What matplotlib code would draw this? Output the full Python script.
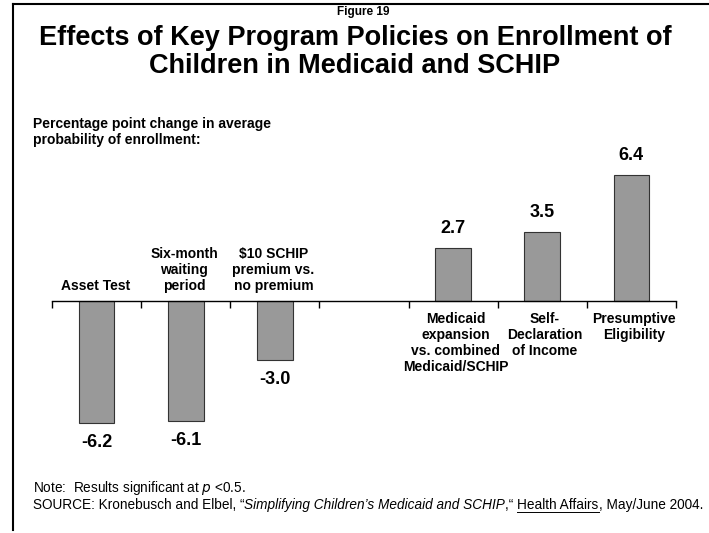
import numpy as np
import matplotlib.pyplot as plt
from matplotlib.lines import Line2D

plt.rcParams['font.family'] = ['Liberation Sans', 'DejaVu Sans']

# --- data ---
categories = ['Asset Test', 'Six-month\nwaiting\nperiod', '$10 SCHIP\npremium vs.\nno premium', '',
              'Medicaid\nexpansion\nvs. combined\nMedicaid/SCHIP', 'Self-\nDeclaration\nof Income',
              'Presumptive\nEligibility']
values = [-6.2, -6.1, -3.0, np.nan, 2.7, 3.5, 6.4]
value_labels = ['-6.2', '-6.1', '-3.0', '', '2.7', '3.5', '6.4']

fig = plt.figure(figsize=(7.09, 5.33), dpi=100)
ax = fig.add_axes([52 / 709, 1 - 448.8 / 533, (676 - 52) / 709, (448.8 - 143.4) / 533])

x = np.arange(len(categories))
ax.bar(x, values, width=0.4, color='#999999', edgecolor='#333333', linewidth=0.8, zorder=2)
ax.set_xlim(-0.5, len(categories) - 0.5)
ax.set_ylim(-7.5, 8)

for s in ['top', 'right', 'left']:
    ax.spines[s].set_visible(False)
ax.spines['bottom'].set_position(('data', 0))
ax.spines['bottom'].set_linewidth(1.0)
ax.set_yticks([])
ax.set_xticks(np.arange(-0.5, len(categories)))
ax.set_xticklabels([])
ax.tick_params(axis='x', direction='out', length=5, width=1.0)

for xi, v, cat, lab in zip(x, values, categories, value_labels):
    if np.isnan(v):
        continue
    if v < 0:
        ax.annotate(cat, (xi, 0), xytext=(-1, 6), textcoords='offset points',
                    ha='center', va='bottom', fontsize=10, fontweight='bold', linespacing=1.17)
        ax.annotate(lab, (xi, v), xytext=(0, -8), textcoords='offset points',
                    ha='center', va='top', fontsize=13, fontweight='bold')
    else:
        ax.annotate(cat, (xi, 0), xytext=(2, -8), textcoords='offset points',
                    ha='center', va='top', fontsize=10, fontweight='bold', linespacing=1.17)
        ax.annotate(lab, (xi, v), xytext=(0, 8), textcoords='offset points',
                    ha='center', va='bottom', fontsize=13, fontweight='bold')

# titles and notes
fig.text(363 / 709, 1 - 12 / 533, 'Figure 19', ha='center', va='center', fontsize=8.5, fontweight='bold')
fig.text(355 / 709, 1 - 52 / 533, 'Effects of Key Program Policies on Enrollment of\nChildren in Medicaid and SCHIP',
         ha='center', va='center', fontsize=19.5, fontweight='bold', linespacing=1.12)
fig.text(33 / 709, 1 - 132 / 533, 'Percentage point change in average\nprobability of enrollment:',
         ha='left', va='center', fontsize=10, fontweight='bold', linespacing=1.25)
fs_note = 9.8
fig.text(33 / 709, 1 - 488 / 533, 'Note:  Results significant at $\\it{p}$ <0.5.',
         ha='left', va='center', fontsize=fs_note)
src = fig.text(33 / 709, 1 - 505 / 533, 'SOURCE: Kronebusch and Elbel, \u201c', ha='left', va='center', fontsize=fs_note)

# source line assembled piecewise for italics / underline
fig.canvas.draw()
r = fig.canvas.get_renderer()
pieces = [('Simplifying Children\u2019s Medicaid and SCHIP', 'italic', False),
          (',\u201c ', 'normal', False), ('Health Affairs', 'normal', True), (', May/June 2004.', 'normal', False)]
prev = src
for txt, style, ul in pieces:
    bb = prev.get_window_extent(r)
    t = fig.text(bb.x1 / 709, 1 - 505 / 533, txt, ha='left', va='center', fontsize=fs_note, style=style)
    if ul:
        tb = t.get_window_extent(r)
        fig.add_artist(Line2D([tb.x0 / 709, tb.x1 / 709], [(tb.y0 + 0.5) / 533] * 2, color='black', lw=0.7))
    prev = t

# frame lines (top and left)
fig.add_artist(Line2D([12.5 / 709, 1], [1 - 4 / 533] * 2, color='black', lw=1.5))
fig.add_artist(Line2D([12.5 / 709] * 2, [1 - 4 / 533, 3 / 533], color='black', lw=1.5))

fig.savefig('out.png', dpi=100)
